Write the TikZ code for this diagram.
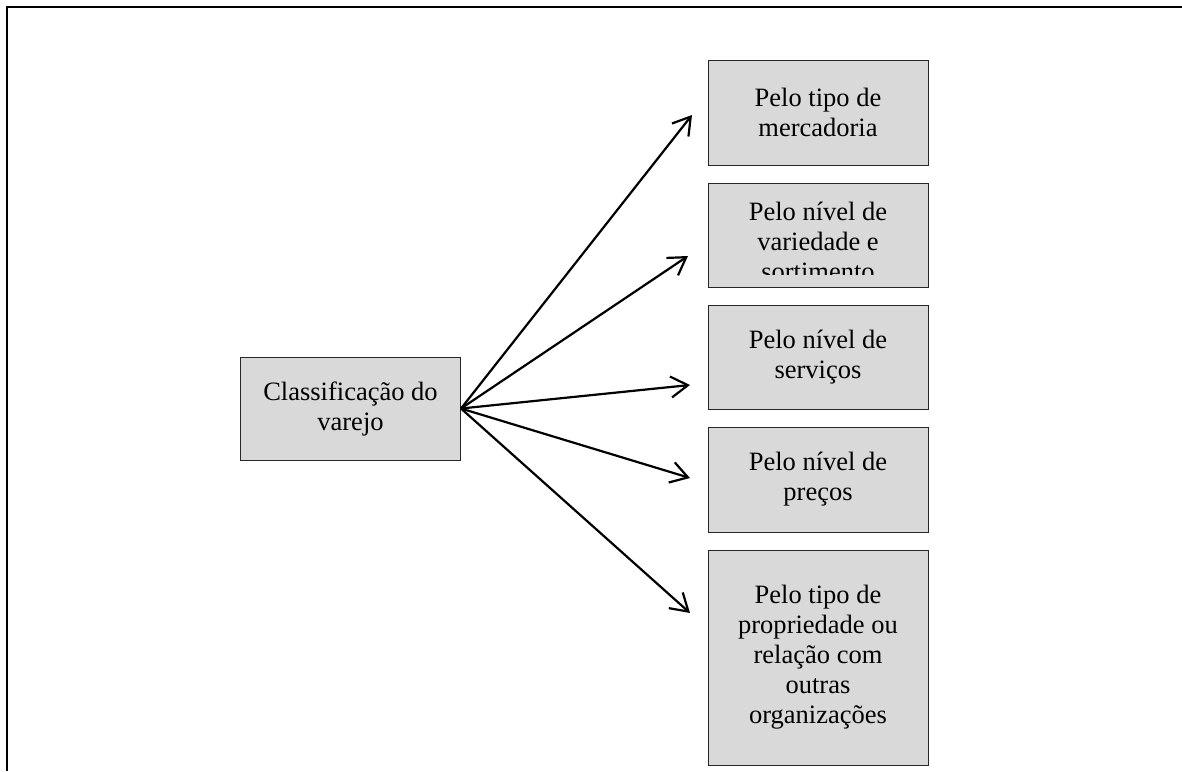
\documentclass[tikz,border=0pt]{standalone}
\usepackage{fontspec}
\setmainfont{Liberation Serif}
\usetikzlibrary{arrows.meta}
\definecolor{boxgray}{HTML}{D9D9D9}
\definecolor{edgegray}{HTML}{262626}
\tikzset{
  catbox/.style={draw=edgegray, line width=1pt, fill=boxgray,
    minimum width=220pt, inner sep=0pt, align=center,
    font=\fontsize{26.5}{30}\selectfont},
  plain/.style={inner sep=0pt, align=center, font=\fontsize{26.5}{30}\selectfont},
  link/.style={line width=2.2pt, -{Straight Barb[length=17pt,width=21pt]}},
  frameline/.style={line width=2pt, black}
}
\begin{document}
\begin{tikzpicture}[x=1pt,y=-1pt]
  \useasboundingbox (0,0) rectangle (1182,771);
  % frame of the surrounding cell
  \draw[frameline] (6,6.5) -- (1182,6.5);
  \draw[frameline] (6.5,6) -- (6.5,771);

  % central box
  \node[catbox, minimum height=103pt] (root) at (350.5,408.5)
    {Classificação do\\varejo};

  % categories
  \node[catbox, minimum height=105pt] (b1) at (818,112.5) {Pelo tipo de\\mercadoria};
  \node[catbox, minimum height=104pt] (b2) at (818,235) {};
  \begin{scope}
    \clip (708,183) rectangle (928,274);
    \node[plain] (b2t) at (818,241) {Pelo nível de\\variedade e\\sortimento};
  \end{scope}
  \node[catbox, minimum height=104pt] (b3) at (818,357) {Pelo nível de\\serviços};
  \node[catbox, minimum height=105pt] (b4) at (818,479.5) {Pelo nível de\\preços};
  \node[catbox, minimum height=215pt] (b5) at (818,657.5)
    {Pelo tipo de\\propriedade ou\\relação com\\outras\\organizações};

  % arrow ends
  \coordinate (t1) at (692,115);
  \coordinate (t2) at (688,256);
  \coordinate (t3) at (690,385);
  \coordinate (t4) at (690,478);
  \coordinate (t5) at (690,613);

  \foreach \t in {t1,t2,t3,t4,t5}
    \draw[link] (root.east) -- (\t);
\end{tikzpicture}
\end{document}
